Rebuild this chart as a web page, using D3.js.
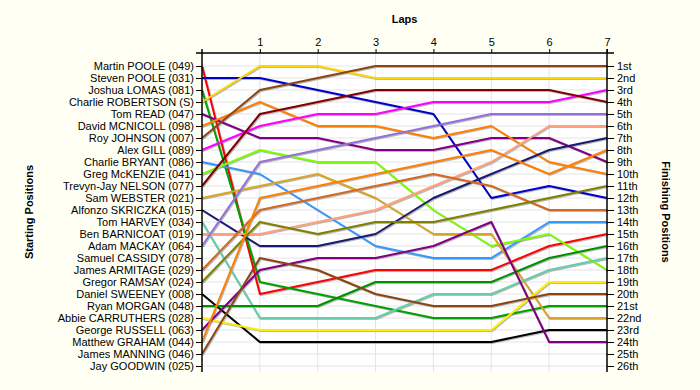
<!DOCTYPE html>
<html>
<head>
<meta charset="utf-8">
<script src="https://cdn.jsdelivr.net/npm/d3@7"></script>
<style>
  body { margin: 0; background: #fffff4; }
  svg { display: block; font-family: "Liberation Sans", Arial, sans-serif; }
</style>
</head>
<body>
<svg width="700" height="390"></svg>
<script>
// laps shown on the top axis (0 = grid)
var laps = [0, 1, 2, 3, 4, 5, 6, 7];

var drivers = [
    'Martin POOLE (049)', 'Steven POOLE (031)', 'Joshua LOMAS (081)', 'Charlie ROBERTSON (S)',
    'Tom READ (047)', 'David MCNICOLL (098)', 'Roy JOHNSON (007)', 'Alex GILL (089)',
    'Charlie BRYANT (086)', 'Greg McKENZIE (041)', 'Trevyn-Jay NELSON (077)', 'Sam WEBSTER (021)',
    'Alfonzo SKRICZKA (015)', 'Tom HARVEY (034)', 'Ben BARNICOAT (019)', 'Adam MACKAY (064)',
    'Samuel CASSIDY (078)', 'James ARMITAGE (029)', 'Gregor RAMSAY (024)', 'Daniel SWEENEY (008)',
    'Ryan MORGAN (048)', 'Abbie CARRUTHERS (028)', 'George RUSSELL (063)', 'Matthew GRAHAM (044)',
    'James MANNING (046)', 'Jay GOODWIN (025)'
];

// position after each lap, same order as drivers (null = no line)
var positions = [
    [1, 20, 19, 18, 18, 18, 16, 15],
    [2, 2, 3, 4, 5, 12, 11, 12],
    [3, 19, 20, 21, 22, 22, 21, 21],
    [4, 1, 1, 2, 2, 2, 2, 2],
    [5, 7, 7, 8, 8, 7, 7, 9],
    [6, 4, 6, 6, 7, 6, 9, 10],
    [7, 3, 2, 1, 1, 1, 1, 1],
    [8, 6, 5, 5, 4, 4, 4, 3],
    [9, 10, 13, 16, 17, 17, 14, 14],
    [10, 8, 9, 9, 13, 16, 15, 18],
    [11, 5, 4, 3, 3, 3, 3, 4],
    [12, 11, 10, 12, 15, 15, 22, 22],
    [13, 16, 16, 15, 12, 10, 8, 7],
    [14, 22, 22, 22, 20, 20, 18, 17],
    [15, 15, 14, 13, 11, 9, 6, 6],
    [16, 9, 8, 7, 6, 5, 5, 5],
    null,
    [18, 13, 12, 11, 10, 11, 13, 13],
    [19, 14, 15, 14, 14, 13, 12, 11],
    [20, 24, 24, 24, 24, 24, 23, 23],
    [21, 21, 21, 19, 19, 19, 17, 16],
    [22, 23, 23, 23, 23, 23, 19, 19],
    [23, 18, 17, 17, 16, 14, 24, 24],
    [24, 12, 11, 10, 9, 8, 10, 8],
    [25, 17, 18, 20, 21, 21, 20, 20],
    null
];

var finishLabels = [
    '1st', '2nd', '3rd', '4th', '5th', '6th', '7th', '8th', '9th', '10th',
    '11th', '12th', '13th', '14th', '15th', '16th', '17th', '18th', '19th', '20th',
    '21st', '22nd', '23rd', '24th', '25th', '26th'
];

var colors = [
    '#ff0000', '#0000cc', '#00a000', '#ffd700', '#800080', '#ff8000', '#8b4513', '#ff00ff',
    '#3399ff', '#7cfc00', '#800000', '#daa520', '#191970', '#66cdaa', '#ffa07a', '#9370db',
    '#999999', '#d2691e', '#808000', '#000000', '#009000', '#ffee00', '#800080', '#ff8000',
    '#8b4513', '#999999'
];

var rows = d3.range(1, drivers.length + 1);

var svg = d3.select('svg');

var x = d3.scaleLinear().domain([0, 7]).range([202, 607]);
var y = d3.scaleLinear().domain([1, 26]).range([66, 366]);

var plotTop = 53, plotBottom = 372;

// plot background
svg.append('rect')
    .attr('x', x(0)).attr('y', plotTop)
    .attr('width', x(7) - x(0)).attr('height', plotBottom - plotTop)
    .attr('fill', '#ffffff');

// grid
svg.append('g').selectAll('line')
    .data(rows)
    .enter().append('line')
    .attr('x1', x(0)).attr('x2', x(7))
    .attr('y1', d => y(d)).attr('y2', d => y(d))
    .attr('stroke', '#e4e4e4');

svg.append('g').selectAll('line')
    .data(laps.slice(1, 7))
    .enter().append('line')
    .attr('x1', d => x(d)).attr('x2', d => x(d))
    .attr('y1', plotTop).attr('y2', plotBottom)
    .attr('stroke', '#e4e4e4');

// lines
var finished = positions.map((p, i) => ({ p: p, i: i })).filter(d => d.p);

var line = d3.line()
    .x((d, i) => x(laps[i]))
    .y(d => y(d));

svg.append('g')
    .attr('transform', 'translate(1 1)')
    .selectAll('path')
    .data(finished)
    .enter().append('path')
    .attr('d', d => line(d.p))
    .attr('fill', 'none')
    .attr('stroke', '#9a9a9a')
    .attr('stroke-opacity', 0.7)
    .attr('stroke-width', 2);

svg.append('g')
    .selectAll('path')
    .data(finished)
    .enter().append('path')
    .attr('d', d => line(d.p))
    .attr('fill', 'none')
    .attr('stroke', d => colors[d.i])
    .attr('stroke-width', 2)
    .attr('stroke-linejoin', 'round');

// axes
var topAxis = svg.append('g')
    .attr('transform', 'translate(0 ' + plotTop + ')')
    .call(d3.axisTop(x).tickValues(laps.slice(1)).tickFormat(d3.format('d')).tickSize(4).tickSizeOuter(0));

var leftAxis = svg.append('g')
    .attr('transform', 'translate(' + x(0) + ' 0)')
    .call(d3.axisLeft(y).tickValues(rows).tickFormat(d => drivers[d - 1]).tickSize(6).tickPadding(2));

var rightAxis = svg.append('g')
    .attr('transform', 'translate(' + x(7) + ' 0)')
    .call(d3.axisRight(y).tickValues(rows).tickFormat(d => finishLabels[d - 1]).tickSize(7).tickPadding(3));

[topAxis, leftAxis, rightAxis].forEach(a => {
    a.select('.domain').remove();
    a.selectAll('text').attr('font-size', 11).attr('font-family', '"Liberation Sans", Arial, sans-serif').attr('fill', '#000');
    a.selectAll('line').attr('stroke', '#000');
});

// frame lines
svg.append('line')
    .attr('x1', x(0) - 6).attr('x2', x(7) + 7)
    .attr('y1', plotTop).attr('y2', plotTop)
    .attr('stroke', '#000').attr('stroke-width', 1.5);
svg.append('line')
    .attr('x1', x(0)).attr('x2', x(0))
    .attr('y1', plotTop - 4).attr('y2', plotBottom)
    .attr('stroke', '#000').attr('stroke-width', 1.5);
svg.append('line')
    .attr('x1', x(7)).attr('x2', x(7))
    .attr('y1', plotTop - 4).attr('y2', plotBottom)
    .attr('stroke', '#000').attr('stroke-width', 1.5);

// titles
svg.append('text')
    .attr('x', (x(0) + x(7)) / 2).attr('y', 23)
    .attr('text-anchor', 'middle')
    .attr('font-size', 11).attr('font-weight', 'bold')
    .text('Laps');

svg.append('text')
    .attr('transform', 'translate(33 212) rotate(-90)')
    .attr('text-anchor', 'middle')
    .attr('font-size', 11).attr('font-weight', 'bold')
    .text('Starting Positions');

svg.append('text')
    .attr('transform', 'translate(662 212) rotate(90)')
    .attr('text-anchor', 'middle')
    .attr('font-size', 11).attr('font-weight', 'bold')
    .text('Finishing Positions');
</script>
</body>
</html>
